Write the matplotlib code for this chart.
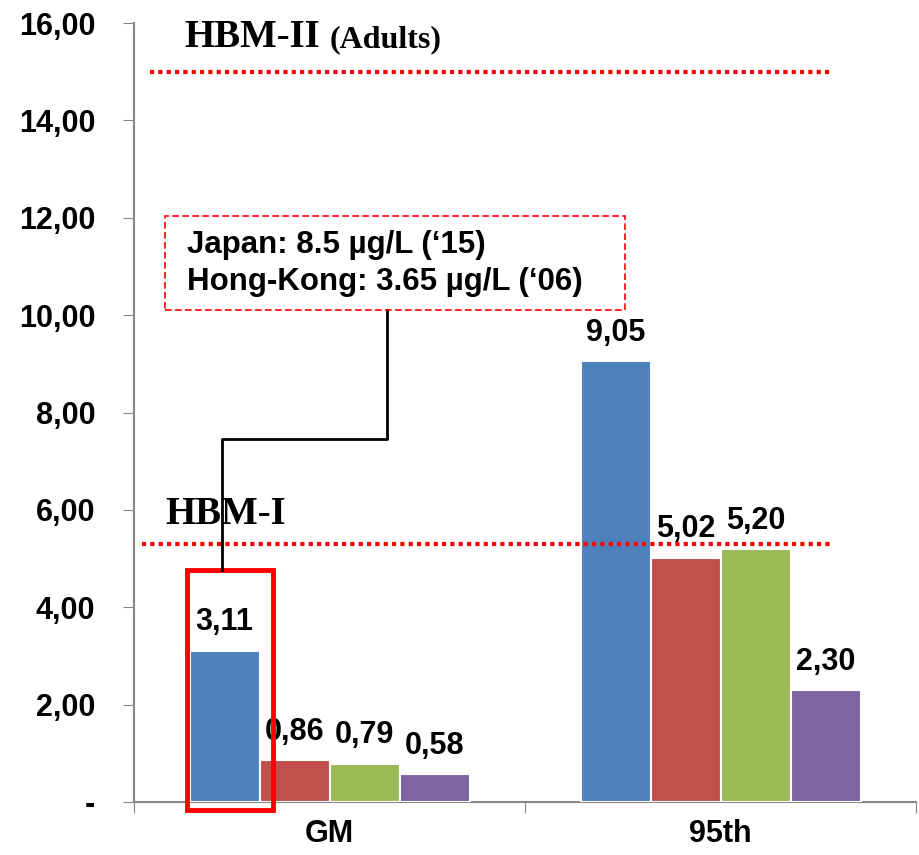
import matplotlib.pyplot as plt
from matplotlib.patches import Rectangle
import numpy as np

categories = ["GM", "95th"]
series_colors = ["#4F81BD", "#C0504D", "#9BBB59", "#8064A2"]
gm_values = [3.11, 0.86, 0.79, 0.58]
p95_values = [9.05, 5.02, 5.20, 2.30]
hbm1 = 5.3
hbm2 = 15.0
yticks = [0, 2, 4, 6, 8, 10, 12, 14, 16]

fig = plt.figure(figsize=(9.2, 8.55), dpi=100)
ax = fig.add_axes([0.1457, 0.062, 0.85, 0.911])

x = np.arange(len(categories))
w = 0.179
for i in range(4):
    vals = [gm_values[i], p95_values[i]]
    pos = x + (i - 1.5) * w
    bars = ax.bar(pos, vals, w, color=series_colors[i], edgecolor="white", linewidth=1.5, zorder=3)
    for b, v in zip(bars, vals):
        ax.text(b.get_x() + b.get_width() / 2, v + 0.27, f"{v:.2f}".replace(".", ","),
                ha="center", va="bottom", fontsize=22, fontweight="bold", family="Liberation Sans", zorder=5)

ax.set_xlim(-0.5, 1.5)
ax.set_ylim(0, 16)
ax.set_yticks(yticks)
ax.set_yticklabels(["-" if t == 0 else f"{t:.2f}".replace(".", ",") for t in yticks],
                   fontsize=22, fontweight="bold", family="Liberation Sans")
ax.set_xticks([-0.5, 0.5, 1.5])
ax.set_xticklabels([])
ax.set_xticks(x, minor=True)
ax.set_xticklabels(categories, minor=True, fontsize=22, fontweight="bold", family="Liberation Sans")
ax.tick_params(axis="x", which="minor", length=0, pad=12)
ax.tick_params(axis="x", which="major", length=8, color="#888888", direction="out")
ax.tick_params(axis="y", length=8, color="#888888", pad=20)
for s in ["top", "right"]:
    ax.spines[s].set_visible(False)
ax.spines["left"].set_color("#888888")
ax.spines["bottom"].set_color("#888888")
ax.spines["left"].set_linewidth(1.5)
ax.spines["bottom"].set_linewidth(1.5)

# reference lines
ax.plot([-0.46, 1.28], [hbm2, hbm2], color="red", linestyle=(0, (1, 1)), linewidth=3, zorder=4)
ax.plot([-0.48, 1.28], [hbm1, hbm1], color="red", linestyle=(0, (1, 1)), linewidth=3, zorder=4)
ax.text(-0.37, 15.7, "HBM-II", fontsize=28, fontweight="bold", family="Liberation Serif", va="center")
ax.text(0.0, 15.65, "(Adults)", fontsize=23, fontweight="bold", family="Liberation Serif", va="center")
ax.text(-0.42, 5.9, "HBM-I", fontsize=28, fontweight="bold", family="Liberation Serif", va="center")

# highlight box and annotation
ax.add_patch(Rectangle((-0.364, -0.16), 0.22, 4.92, fill=False, edgecolor="red", linewidth=3.5,
                       clip_on=False, zorder=6))
ax.plot([0.146, 0.146, -0.275, -0.275], [10.1, 7.45, 7.45, 4.76], color="black", linewidth=2, zorder=6)
ax.add_patch(Rectangle((-0.421, 10.1), 1.176, 1.93, fill=False, edgecolor="red", linewidth=1.2,
                       linestyle=(0, (4, 2)), zorder=6))
ax.text(-0.365, 11.45, "Japan: 8.5 µg/L (\u201815)", fontsize=22.5, fontweight="bold",
        family="Liberation Sans", va="center")
ax.text(-0.365, 10.68, "Hong-Kong: 3.65 µg/L (\u201806)", fontsize=22.5, fontweight="bold",
        family="Liberation Sans", va="center")

fig.savefig("out.png", dpi=100)
